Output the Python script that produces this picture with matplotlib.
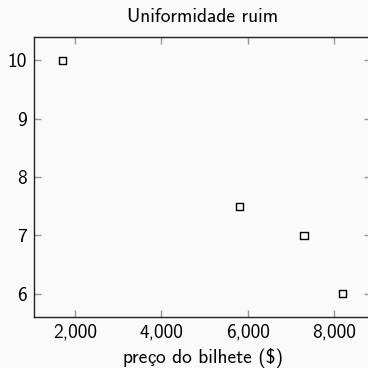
import matplotlib
matplotlib.use('Agg')
import matplotlib.pyplot as plt
from matplotlib.ticker import StrMethodFormatter
from matplotlib.offsetbox import TextArea, HPacker, AnnotationBbox

# data
preco = [1700, 5800, 7300, 8200]
nota = [10, 7.5, 7, 6]
x_ticks = [2000, 4000, 6000, 8000]
y_ticks = [6, 7, 8, 9, 10]

FS = 14
plt.rcParams.update({
    'font.family': ['cmss10', 'DejaVu Sans'],
    'font.size': FS,
    'axes.unicode_minus': False,
    'axes.formatter.use_mathtext': False,
})

bg = '#fafafa'
fig = plt.figure(figsize=(3.68, 3.68), dpi=100, facecolor=bg)
ax = fig.add_axes([34 / 368, 1 - 317 / 368, 337 / 368, 280 / 368])
ax.set_facecolor(bg)

ax.scatter(preco, nota, marker='s', s=26, facecolors='none',
           edgecolors='black', linewidths=1.0, zorder=3)

# pgfplots style: 10% padding around the data
xr = max(preco) - min(preco)
yr = max(nota) - min(nota)
ax.set_xlim(min(preco) - 0.1 * xr, max(preco) + 0.1 * xr)
ax.set_ylim(min(nota) - 0.1 * yr, max(nota) + 0.1 * yr)

ax.set_xticks(x_ticks)
ax.set_yticks(y_ticks)
ax.xaxis.set_major_formatter(StrMethodFormatter('{x:,.0f}'))
ax.tick_params(direction='in', length=5, width=1, color='#999999',
               top=True, right=True, labelsize=FS, pad=5)

for sp in ax.spines.values():
    sp.set_color('#222222')
    sp.set_linewidth(1.0)

ax.set_title('Uniformidade ruim', fontsize=FS, pad=11)

# cmss10 has no proper ç, so the x label is packed from pieces
cm = dict(family='cmss10', size=FS, color='black')
ced = dict(family='Liberation Sans', size=FS * 0.86, color='black')
label = HPacker(children=[TextArea('pre', textprops=cm),
                          TextArea('ç', textprops=ced),
                          TextArea('o do bilhete ($)', textprops=cm)],
                align='baseline', pad=0, sep=0)
ab = AnnotationBbox(label, (0.5, 1 - 358 / 368), xycoords=('axes fraction', 'figure fraction'),
                    box_alignment=(0.5, 0.5), frameon=False, pad=0)
ax.add_artist(ab)

fig.savefig('out.png', dpi=100, facecolor=bg)
